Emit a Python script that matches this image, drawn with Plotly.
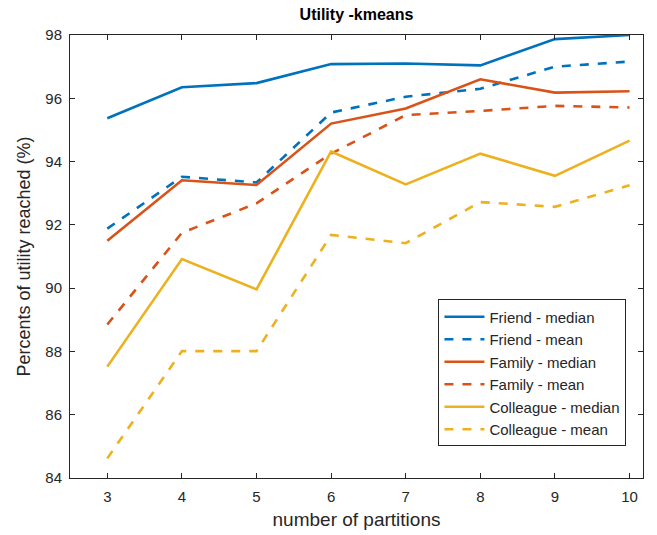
import plotly.graph_objects as go

partitions = [3, 4, 5, 6, 7, 8, 9, 10]

friend_median = [95.37, 96.35, 96.48, 97.08, 97.10, 97.04, 97.87, 98.0]
friend_mean = [91.88, 93.52, 93.34, 95.55, 96.05, 96.30, 97.00, 97.16]
family_median = [91.50, 93.41, 93.26, 95.20, 95.68, 96.60, 96.18, 96.22]
family_mean = [88.85, 91.75, 92.68, 94.25, 95.47, 95.60, 95.76, 95.71]
colleague_median = [87.52, 90.92, 89.96, 94.32, 93.28, 94.25, 93.55, 94.66]
colleague_mean = [84.62, 88.01, 88.01, 91.68, 91.42, 92.72, 92.57, 93.25]

series = [
    ("Friend - median", friend_median, "#0072BD", "solid"),
    ("Friend - mean", friend_mean, "#0072BD", "dash"),
    ("Family - median", family_median, "#D95319", "solid"),
    ("Family - mean", family_mean, "#D95319", "dash"),
    ("Colleague - median", colleague_median, "#EDB120", "solid"),
    ("Colleague - mean", colleague_mean, "#EDB120", "dash"),
]

FONT = "Liberation Sans, Arial"

fig = go.Figure()
for name, vals, color, dash in series:
    fig.add_trace(go.Scatter(
        x=partitions, y=vals, mode="lines", name=name,
        line=dict(color=color, width=2.6, dash=dash),
    ))

axis_common = dict(
    showgrid=False, zeroline=False, showline=True, linecolor="#262626",
    linewidth=1, mirror="ticks", ticks="inside", ticklen=5, tickcolor="#262626",
    tickfont=dict(family=FONT, size=15, color="#262626"), automargin=False,
)

fig.update_layout(
    width=657, height=535,
    margin=dict(l=70, r=14, t=35, b=57),
    paper_bgcolor="white", plot_bgcolor="white",
    title=dict(text="<b>Utility -kmeans</b>", x=0.5, xanchor="center",
               xref="paper", y=1, yref="container", yanchor="top", pad=dict(t=9),
               font=dict(family=FONT, size=16, color="black")),
    xaxis=dict(range=[2.5, 10.18], tickvals=partitions, ticklabelstandoff=5,
               title=dict(text="number of partitions", standoff=8,
                          font=dict(family=FONT, size=19, color="#262626")),
               **axis_common),
    yaxis=dict(range=[84, 98], tickvals=[84, 86, 88, 90, 92, 94, 96, 98],
               ticklabelstandoff=4,
               title=dict(text="Percents of utility reached (%)", standoff=10,
                          font=dict(family=FONT, size=18, color="#262626")),
               **axis_common),
    legend=dict(x=0.643, y=0.403, xanchor="left", yanchor="top",
                bgcolor="white", bordercolor="#262626", borderwidth=1,
                itemwidth=40, tracegroupgap=0,
                font=dict(family=FONT, size=15, color="#262626")),
    showlegend=True,
)

fig.write_html("out.html")
